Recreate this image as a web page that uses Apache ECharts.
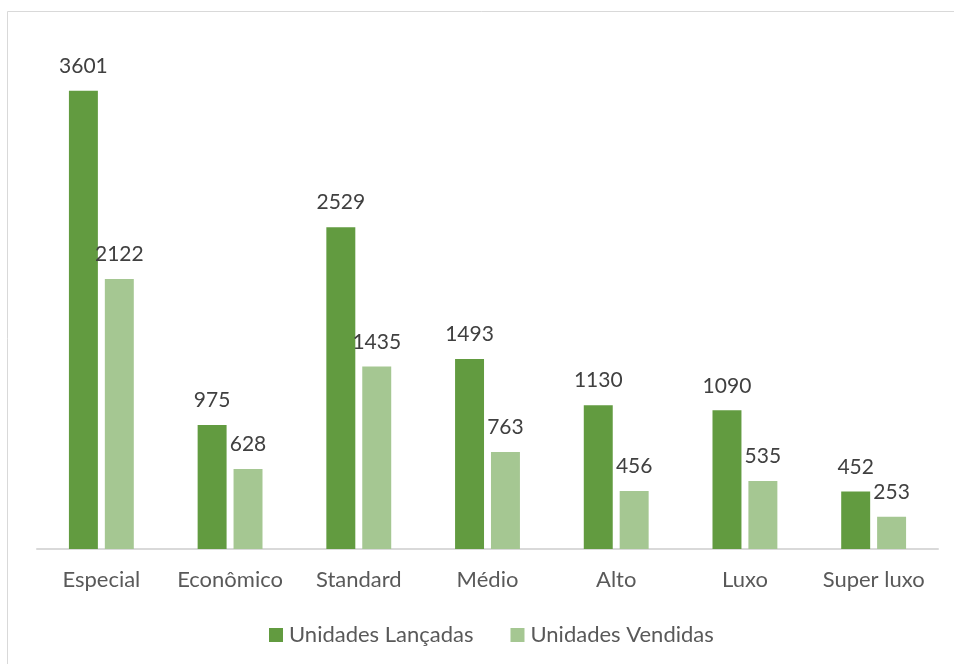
<!DOCTYPE html>
<html>
<head>
<meta charset="utf-8">
<script src="https://cdn.jsdelivr.net/npm/echarts@6/dist/echarts.min.js"></script>
<style>
  html, body { margin: 0; padding: 0; background: #ffffff; }
  #chart { width: 954px; height: 664px; }
</style>
</head>
<body>
<div id="chart"></div>
<script>
// Categories of housing segments
const categories = ['Especial', 'Econômico', 'Standard', 'Médio', 'Alto', 'Luxo', 'Super luxo'];
// Units launched and units sold per segment
const lancadas = [3601, 975, 2529, 1493, 1130, 1090, 452];
const vendidas = [2122, 628, 1435, 763, 456, 535, 253];
const seriesNames = ['Unidades Lançadas', 'Unidades Vendidas'];

const FONT = 'Lato, "Open Sans", sans-serif';
const chart = echarts.init(document.getElementById('chart'), null, { renderer: 'canvas' });

const labelStyle = {
  show: true,
  position: 'top',
  distance: 14,
  color: '#404040',
  fontSize: 21,
  fontFamily: FONT
};

chart.setOption({
  animation: false,
  backgroundColor: '#ffffff',
  graphic: [{
    type: 'rect',
    shape: { x: 7.5, y: 11.5, width: 960, height: 700 },
    style: { fill: 'none', stroke: '#d9d9d9', lineWidth: 1 },
    silent: true,
    z: -1
  }],
  grid: { left: 37, right: 16, top: 40, bottom: 115, containLabel: false },
  legend: {
    data: seriesNames,
    left: 264,
    top: 619,
    itemWidth: 14,
    itemHeight: 14,
    itemGap: 37,
    icon: 'rect',
    textStyle: { color: '#595959', fontSize: 22, fontFamily: FONT, padding: [0, 0, 0, 1] }
  },
  xAxis: {
    type: 'category',
    data: categories,
    axisLine: { lineStyle: { color: '#d9d9d9', width: 2 } },
    axisTick: { show: false },
    axisLabel: { color: '#595959', fontSize: 22, fontFamily: FONT, margin: 20, interval: 0 }
  },
  yAxis: {
    type: 'value',
    min: 0,
    max: 4000,
    show: false,
    splitLine: { show: false }
  },
  series: [
    {
      name: seriesNames[0],
      type: 'bar',
      data: lancadas,
      barWidth: '22.5%',
      barGap: '24%',
      itemStyle: { color: '#629B40' },
      label: labelStyle
    },
    {
      name: seriesNames[1],
      type: 'bar',
      data: vendidas,
      barWidth: '22.5%',
      itemStyle: { color: '#A5C792' },
      label: labelStyle
    }
  ]
});
</script>
</body>
</html>
